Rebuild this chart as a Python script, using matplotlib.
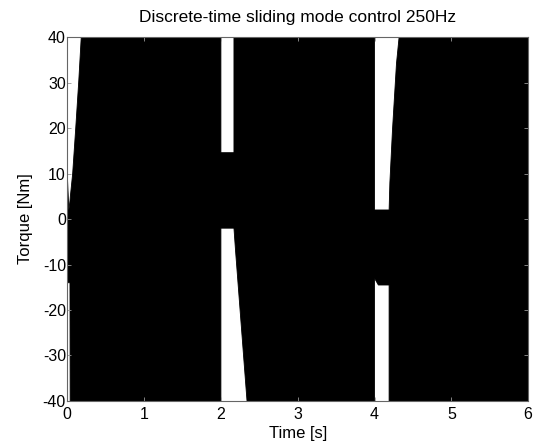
import matplotlib
matplotlib.use("Agg")
import matplotlib.pyplot as plt

# Envelope of the chattering torque signal
time_s = [0.0, 0.02, 0.035, 0.04, 0.07, 0.11, 0.15, 0.185, 0.2,
          2.0, 2.0, 2.17, 2.17, 2.19, 2.34, 2.44,
          4.0, 4.0, 4.05, 4.19, 4.19, 4.2, 4.234, 4.286, 4.32, 4.36, 6.0]
upper_nm = [10, 2, 4, 5, 10, 20, 30.5, 41, 60,
            60, 14.6, 14.6, 60, 60, 60, 60,
            60, 2, 2, 2, 2, 8, 19.6, 34.2, 40, 50, 60]
lower_nm = [-14, -14, -14, -60, -60, -60, -60, -60, -60,
            -60, -2, -2, -2, -6.8, -40, -60,
            -60, -13, -14.5, -14.5, -60, -60, -60, -60, -60, -60, -60]

xticks = [0, 1, 2, 3, 4, 5, 6]
yticks = [-40, -30, -20, -10, 0, 10, 20, 30, 40]

plt.rcParams['font.family'] = ['Liberation Sans', 'DejaVu Sans']
plt.rcParams['axes.unicode_minus'] = False

fig = plt.figure(figsize=(5.34, 4.48), dpi=100)
ax = fig.add_axes([0.126, 0.105, 0.863, 0.812])

ax.fill_between(time_s, lower_nm, upper_nm, color='black', linewidth=0.6,
                edgecolor='black')

ax.set_xlim(0, 6)
ax.set_ylim(-40, 40)
ax.set_xticks(xticks)
ax.set_yticks(yticks)
ax.tick_params(direction='in', length=3, width=0.6, color='#999999',
               labelsize=11.5, top=True, right=True)
ax.tick_params(axis='x', pad=4)
ax.tick_params(axis='y', pad=1)
for s in ax.spines.values():
    s.set_color('#666666')
    s.set_linewidth(0.8)

ax.set_title('Discrete-time sliding mode control 250Hz', fontsize=12.5, pad=11)
ax.set_xlabel('Time [s]', fontsize=12)
ax.set_ylabel('Torque [Nm]', fontsize=12)
ax.xaxis.set_label_coords(0.5, -0.07)
ax.yaxis.set_label_coords(-0.075, 0.5)

fig.savefig('out.png', dpi=100)
